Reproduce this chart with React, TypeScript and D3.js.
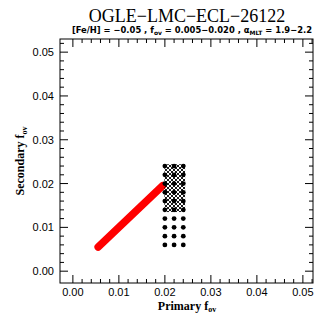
import * as d3 from "d3";

// chart values
const xTicks = [0.0, 0.01, 0.02, 0.03, 0.04, 0.05];
const yTicks = [0.0, 0.01, 0.02, 0.03, 0.04, 0.05];
const redPrimary = [0.0055, 0.0195];
const redSecondary = [0.0055, 0.0195];
const gridPrimary = [0.020, 0.022, 0.024];
const gridSecondary = [0.006, 0.008, 0.010, 0.012, 0.014, 0.016, 0.018, 0.020, 0.022, 0.024];
const hatchPrimary = [0.0199, 0.0244];
const hatchSecondary = [0.0135, 0.0244];

const width = 315;
const height = 316;
const left = 60;
const right = 313;
const top = 39;
const bottom = 283;

export default function App() {
  const x = d3.scaleLinear([-0.0028, 0.0522], [left, right]);
  const y = d3.scaleLinear([-0.0027, 0.053], [bottom, top]);
  const minorX = d3.range(0, 0.0521, 0.002);
  const minorY = d3.range(0, 0.0521, 0.002);
  const line = d3.line<number>((_, i) => x(redPrimary[i]), (d) => y(d));
  const dots = gridPrimary.flatMap((p) => gridSecondary.map((s) => [p, s]));

  return (
    <svg width={width} height={height} style={{ position: "absolute", left: 0, top: 0, background: "#fff" }}>
      <defs>
        <pattern id="hatch" width="4" height="4" patternUnits="userSpaceOnUse">
          <path d="M0,0 L4,4 M4,0 L0,4" stroke="#000" strokeWidth="0.9" />
        </pattern>
      </defs>
      <text x={187} y={22} textAnchor="middle" fontFamily="Liberation Serif" fontSize={18}>
        OGLE−LMC−ECL−26122
      </text>
      <text x={312} y={33} textAnchor="end" fontFamily="DejaVu Sans" fontWeight="bold" fontSize={8.4}>
        [Fe/H] = −0.05 , f<tspan fontSize={6} dy={2}>ov</tspan>
        <tspan dy={-2}> = 0.005−0.020 , α</tspan>
        <tspan fontSize={6} dy={2}>MLT</tspan>
        <tspan dy={-2}> = 1.9−2.2</tspan>
      </text>

      <path d={line(redSecondary) ?? ""} stroke="#ff0000" strokeWidth={7.5} strokeLinecap="round" fill="none" />
      <rect
        x={x(hatchPrimary[0])}
        y={y(hatchSecondary[1])}
        width={x(hatchPrimary[1]) - x(hatchPrimary[0])}
        height={y(hatchSecondary[0]) - y(hatchSecondary[1])}
        fill="url(#hatch)"
      />
      {dots.map(([p, s], i) => (
        <circle key={i} cx={x(p)} cy={y(s)} r={2.4} fill="#000" />
      ))}

      <rect x={left} y={top} width={right - left} height={bottom - top} fill="none" stroke="#000" strokeWidth={1} />
      {minorX.map((v, i) => {
        const major = i % 5 === 0;
        const len = major ? 8 : 4;
        return (
          <g key={"mx" + i} stroke="#000" strokeWidth={1}>
            <line x1={x(v)} x2={x(v)} y1={bottom} y2={bottom - len} />
            <line x1={x(v)} x2={x(v)} y1={top} y2={top + len} />
          </g>
        );
      })}
      {minorY.map((v, i) => {
        const major = i % 5 === 0;
        const len = major ? 8 : 4;
        return (
          <g key={"my" + i} stroke="#000" strokeWidth={1}>
            <line x1={left} x2={left + len} y1={y(v)} y2={y(v)} />
            <line x1={right} x2={right - len} y1={y(v)} y2={y(v)} />
          </g>
        );
      })}
      {xTicks.map((v) => (
        <text key={"xt" + v} x={x(v)} y={296} textAnchor="middle" fontFamily="Liberation Sans" fontSize={11}>
          {v.toFixed(2)}
        </text>
      ))}
      {yTicks.map((v) => (
        <text key={"yt" + v} x={54} y={y(v) + 4} textAnchor="end" fontFamily="Liberation Sans" fontSize={11}>
          {v.toFixed(2)}
        </text>
      ))}
      <text x={187} y={310} textAnchor="middle" fontFamily="Liberation Serif" fontWeight="bold" fontSize={12}>
        Primary f<tspan fontSize={8} dy={2}>ov</tspan>
      </text>
      <text transform={`translate(24,${(top + bottom) / 2}) rotate(-90)`} textAnchor="middle" fontFamily="Liberation Serif" fontWeight="bold" fontSize={12}>
        Secondary f<tspan fontSize={8} dy={3}>ov</tspan>
      </text>
    </svg>
  );
}
